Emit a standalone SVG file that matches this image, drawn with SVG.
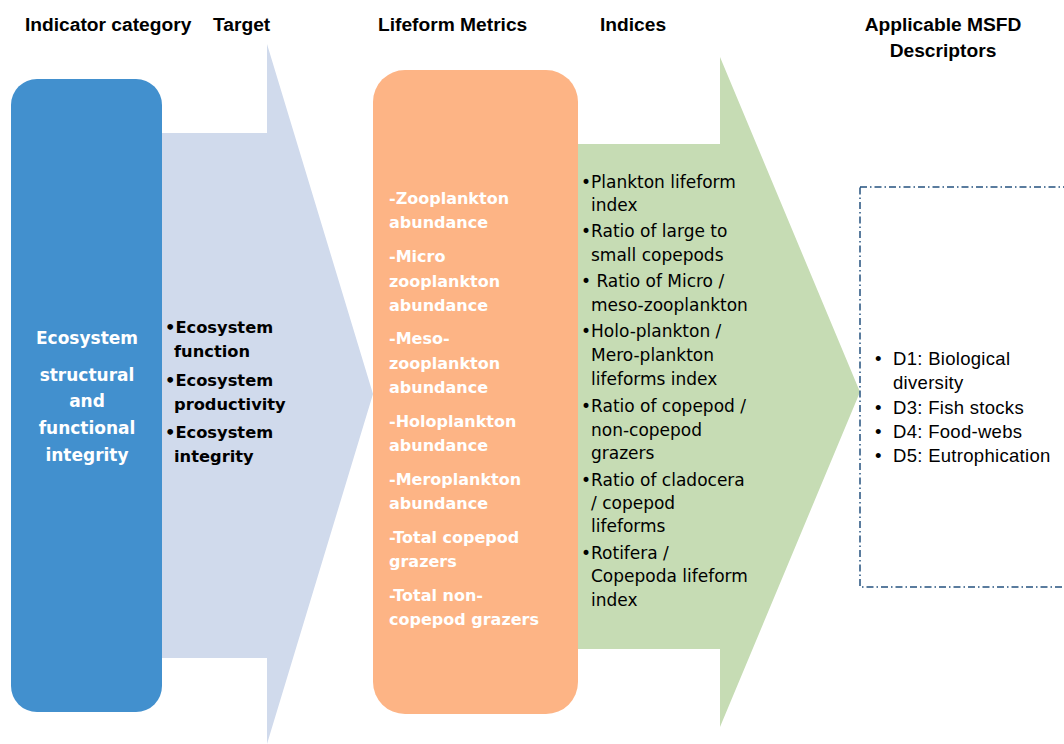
<svg xmlns="http://www.w3.org/2000/svg" width="1064" height="744" viewBox="0 0 1064 744">
<style>
.hdr{font-family:"Liberation Sans",Arial,sans-serif;font-weight:bold;font-size:19.2px;fill:#000}
.bw{font-family:"DejaVu Sans",sans-serif;font-weight:bold;fill:#fff}
.bk{font-family:"DejaVu Sans",sans-serif;font-weight:bold;font-size:16.3px;fill:#000}
.gr{font-family:"DejaVu Sans",sans-serif;font-size:17px;fill:#000}
.ds{font-family:"Liberation Sans",Arial,sans-serif;font-size:18.5px;letter-spacing:0.3px;fill:#000}
</style>
<rect width="1064" height="744" fill="#fff"/>
<g id="headers">
<text class="hdr" x="25" y="31">Indicator category</text>
<text class="hdr" x="213" y="31">Target</text>
<text class="hdr" x="378" y="31">Lifeform Metrics</text>
<text class="hdr" x="600" y="31">Indices</text>
<text class="hdr" x="943" y="31" text-anchor="middle">Applicable MSFD</text>
<text class="hdr" x="943" y="57" text-anchor="middle">Descriptors</text>
</g>
<g id="target">
<polygon points="162,133 267,133 267,44 373,394 267,744 267,658 162,658" fill="#D0DAEC"/>
<text class="bk"><tspan x="165" y="333">•Ecosystem</tspan><tspan x="174" y="357">function</tspan><tspan x="165" y="386">•Ecosystem</tspan><tspan x="174" y="410">productivity</tspan><tspan x="165" y="438">•Ecosystem</tspan><tspan x="174" y="462">integrity</tspan></text>
</g>
<g id="indicator-category">
<rect x="11" y="79" width="151" height="633" rx="26" fill="#4290CE"/>
<text class="bw" font-size="17" text-anchor="middle"><tspan x="87" y="344">Ecosystem</tspan><tspan x="87" y="381">structural</tspan><tspan x="87" y="407">and</tspan><tspan x="87" y="434">functional</tspan><tspan x="87" y="461">integrity</tspan></text>
</g>
<g id="indices">
<polygon points="578,144 720,144 720,57 860,392 720,727 720,649 578,649" fill="#C6DCB4"/>
<text class="gr">
<tspan x="581" y="188">•Plankton lifeform</tspan><tspan x="591" y="211">index</tspan>
<tspan x="581" y="237">•Ratio of large to</tspan><tspan x="591" y="261">small copepods</tspan>
<tspan x="581" y="287">• Ratio of Micro /</tspan><tspan x="591" y="311">meso-zooplankton</tspan>
<tspan x="581" y="337">•Holo-plankton /</tspan><tspan x="591" y="361">Mero-plankton</tspan><tspan x="591" y="385">lifeforms index</tspan>
<tspan x="581" y="412">•Ratio of copepod /</tspan><tspan x="591" y="436">non-copepod</tspan><tspan x="591" y="459">grazers</tspan>
<tspan x="581" y="486">•Ratio of cladocera</tspan><tspan x="591" y="509">/ copepod</tspan><tspan x="591" y="532">lifeforms</tspan>
<tspan x="581" y="559">•Rotifera /</tspan><tspan x="591" y="582">Copepoda lifeform</tspan><tspan x="591" y="606">index</tspan>
</text>
</g>
<g id="lifeform-metrics">
<rect x="373" y="70" width="205" height="644" rx="32" fill="#FDB485"/>
<text class="bw" font-size="16">
<tspan x="389" y="204">-Zooplankton</tspan><tspan x="389" y="228">abundance</tspan>
<tspan x="389" y="262">-Micro</tspan><tspan x="389" y="287">zooplankton</tspan><tspan x="389" y="311">abundance</tspan>
<tspan x="389" y="344">-Meso-</tspan><tspan x="389" y="369">zooplankton</tspan><tspan x="389" y="393">abundance</tspan>
<tspan x="389" y="427">-Holoplankton</tspan><tspan x="389" y="451">abundance</tspan>
<tspan x="389" y="485">-Meroplankton</tspan><tspan x="389" y="509">abundance</tspan>
<tspan x="389" y="543">-Total copepod</tspan><tspan x="389" y="567">grazers</tspan>
<tspan x="389" y="601">-Total non-</tspan><tspan x="389" y="625">copepod grazers</tspan>
</text>
</g>
<g id="msfd-descriptors">
<rect x="860" y="187" width="220" height="400" fill="none" stroke="#24527F" stroke-width="1.5" stroke-dasharray="7 3 1.5 3"/>
<text class="ds">
<tspan x="875" y="365">•</tspan><tspan x="893" y="365">D1: Biological</tspan><tspan x="893" y="389">diversity</tspan>
<tspan x="875" y="414">•</tspan><tspan x="893" y="414">D3: Fish stocks</tspan>
<tspan x="875" y="438">•</tspan><tspan x="893" y="438">D4: Food-webs</tspan>
<tspan x="875" y="462">•</tspan><tspan x="893" y="462">D5: Eutrophication</tspan>
</text>
</g>
<g id="connectors"></g>
</svg>
